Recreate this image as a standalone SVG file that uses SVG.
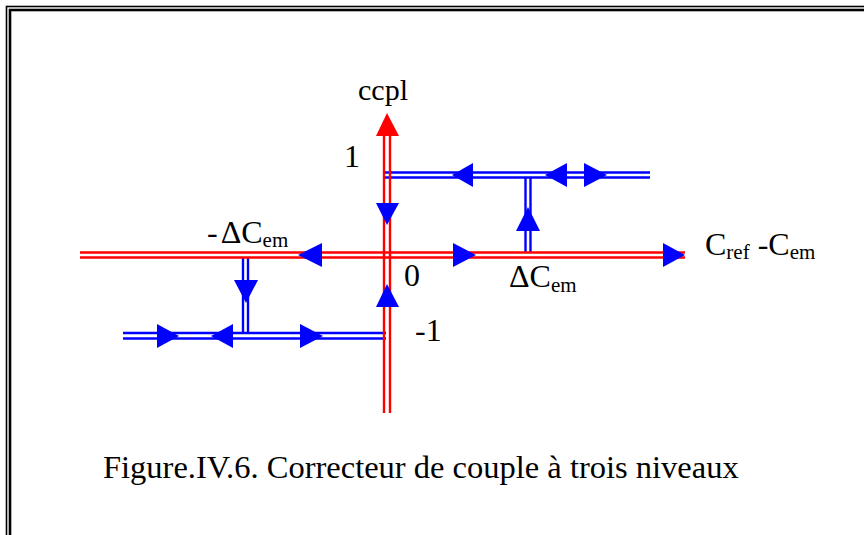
<svg xmlns="http://www.w3.org/2000/svg" width="864" height="535" viewBox="0 0 864 535">
<style>
.r{stroke:#ff0000;stroke-width:2.4;fill:none}
.b{stroke:#0000ff;stroke-width:2.4;fill:none}
.ab{fill:#0000ff}
.ar{fill:#ff0000}
.t{font-family:"Liberation Serif","Times New Roman",serif;fill:#000}
.s{font-size:21px}
</style>
<rect width="864" height="535" fill="#fff"/>
<g id="frame" fill="none" stroke="#000">
<rect x="6.5" y="6.5" width="880" height="560" stroke-width="1.6"/>
<rect x="10" y="10" width="880" height="560" stroke-width="2.6"/>
</g>
<g id="connectors">
<line class="b" x1="385" y1="172.5" x2="650" y2="172.5"/>
<line class="b" x1="385" y1="177.5" x2="650" y2="177.5"/>
<line class="b" x1="525.5" y1="177.5" x2="525.5" y2="253"/>
<line class="b" x1="530.5" y1="177.5" x2="530.5" y2="253"/>
<line class="b" x1="123" y1="333" x2="386" y2="333"/>
<line class="b" x1="123" y1="338.5" x2="386" y2="338.5"/>
<line class="b" x1="243" y1="257" x2="243" y2="333"/>
<line class="b" x1="248" y1="257" x2="248" y2="333"/>
<line class="r" x1="80" y1="252.5" x2="685" y2="252.5"/>
<line class="r" x1="80" y1="257.5" x2="685" y2="257.5"/>
<line class="r" x1="384" y1="134" x2="384" y2="413"/>
<line class="r" x1="390" y1="134" x2="390" y2="413"/>
<polygon class="ar" points="387,113 376,136 399,136"/>
<polygon class="ab" points="685,255 663,243 663,267"/>
<polygon class="ab" points="452,175 473,163 473,187"/>
<polygon class="ab" points="545,175 567,163 567,187"/>
<polygon class="ab" points="607,175 584,163 584,187"/>
<polygon class="ab" points="528,207 516,231 540,231"/>
<polygon class="ab" points="387,225 376,203 399,203"/>
<polygon class="ab" points="298,255 322,243 322,267"/>
<polygon class="ab" points="476,255 453,243 453,267"/>
<polygon class="ab" points="387,284 376,307 399,307"/>
<polygon class="ab" points="246,303 234,280 258,280"/>
<polygon class="ab" points="179,336 157,324 157,348"/>
<polygon class="ab" points="211,336 233,324 233,348"/>
<polygon class="ab" points="323,336 300,324 300,348"/>
</g>
<g id="labels" class="t" font-size="32">
<text x="383" y="100" font-size="30" text-anchor="middle">ccpl</text>
<text x="344" y="167">1</text>
<text x="207" y="243">-<tspan dx="3">ΔC</tspan><tspan class="s" dy="4">em</tspan></text>
<text x="404" y="286">0</text>
<text x="415" y="341">-1</text>
<text x="509" y="287">ΔC<tspan class="s" dy="5">em</tspan></text>
<text x="705" y="255">C<tspan class="s" dy="4">ref</tspan><tspan dy="-4"> -C</tspan><tspan class="s" dy="4">em</tspan></text>
<text x="103" y="478" font-size="32.5">Figure.IV.6. Correcteur de couple à trois niveaux</text>
</g>
</svg>
